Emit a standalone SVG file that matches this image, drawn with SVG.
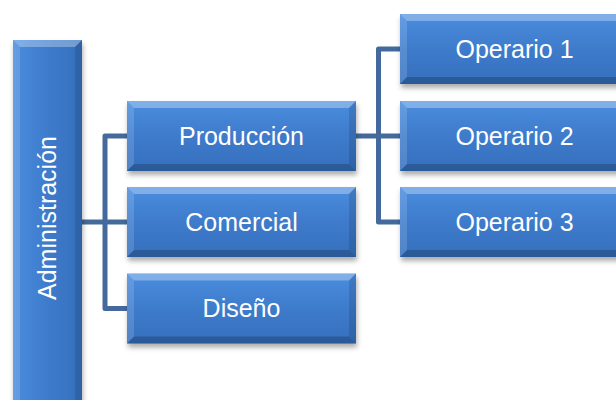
<svg xmlns="http://www.w3.org/2000/svg" xmlns:xlink="http://www.w3.org/1999/xlink" width="616" height="400" viewBox="0 0 616 400">
  <style>
    .lbl { font-family: "Liberation Sans", Arial, sans-serif; font-size: 25px; fill: #ffffff; text-anchor: middle; }
    .conn { fill: none; stroke: #44699c; stroke-width: 5; stroke-linejoin: round; stroke-linecap: butt; }
    .bev-top { fill: #ffffff; fill-opacity: 0.3; }
    .bev-left { fill: #ffffff; fill-opacity: 0.14; }
    .bev-right { fill: #000000; fill-opacity: 0.12; }
    .bev-bottom { fill: #000000; fill-opacity: 0.2; }
  </style>
  <defs>
    <linearGradient id="face" x1="0" y1="0" x2="0" y2="1">
      <stop offset="0" stop-color="#4b8ddf"/>
      <stop offset="0.5" stop-color="#3e7bcb"/>
      <stop offset="1" stop-color="#3570bd"/>
    </linearGradient>
    <linearGradient id="faceV" x1="0" y1="0" x2="1" y2="0">
      <stop offset="0" stop-color="#4b8ddf"/>
      <stop offset="0.5" stop-color="#3e7bcb"/>
      <stop offset="1" stop-color="#3570bd"/>
    </linearGradient>
    <filter id="shadow" x="-10%" y="-20%" width="120%" height="150%">
      <feGaussianBlur stdDeviation="2.5"/>
    </filter>
    <!-- standard 229x70 bevelled box -->
    <g id="box">
      <rect x="1" y="4" width="229" height="70" fill="#000" fill-opacity="0.32" filter="url(#shadow)"/>
      <rect x="0" y="0" width="229" height="70" fill="url(#face)"/>
      <polygon class="bev-top" points="0,0 229,0 222,7 7,7"/>
      <polygon class="bev-left" points="0,0 7,7 7,63 0,70"/>
      <polygon class="bev-right" points="229,0 229,70 222,63 222,7"/>
      <polygon class="bev-bottom" points="0,70 7,63 222,63 229,70"/>
    </g>
  </defs>

  <g id="connectors">
    <path class="conn" d="M82 222 H105"/>
    <path class="conn" d="M128 136 H105 V308.5 H128"/>
    <path class="conn" d="M105 222 H128"/>
    <path class="conn" d="M356 136 H401"/>
    <path class="conn" d="M401 49 H378.5 V222 H401"/>
  </g>

  <g id="administracion">
    <rect x="14" y="44" width="69" height="370" fill="#000" fill-opacity="0.32" filter="url(#shadow)"/>
    <rect x="13" y="40" width="69" height="370" fill="url(#faceV)"/>
    <polygon class="bev-top" points="13,40 82,40 75,47 20,47"/>
    <polygon class="bev-left" points="13,40 20,47 20,403 13,410"/>
    <polygon class="bev-right" points="82,40 82,410 75,403 75,47"/>
    <text class="lbl" transform="translate(47,218) rotate(-90)" x="0" y="9">Administración</text>
  </g>

  <g id="produccion">
    <use xlink:href="#box" x="127" y="101"/>
    <text class="lbl" x="241.5" y="145">Producción</text>
  </g>
  <g id="comercial">
    <use xlink:href="#box" x="127" y="187"/>
    <text class="lbl" x="241.5" y="231">Comercial</text>
  </g>
  <g id="diseno">
    <use xlink:href="#box" x="127" y="273.5"/>
    <text class="lbl" x="241.5" y="317">Diseño</text>
  </g>

  <g id="operario1">
    <use xlink:href="#box" x="400" y="14"/>
    <text class="lbl" x="514.5" y="58">Operario 1</text>
  </g>
  <g id="operario2">
    <use xlink:href="#box" x="400" y="101"/>
    <text class="lbl" x="514.5" y="145">Operario 2</text>
  </g>
  <g id="operario3">
    <use xlink:href="#box" x="400" y="187"/>
    <text class="lbl" x="514.5" y="231">Operario 3</text>
  </g>
</svg>
